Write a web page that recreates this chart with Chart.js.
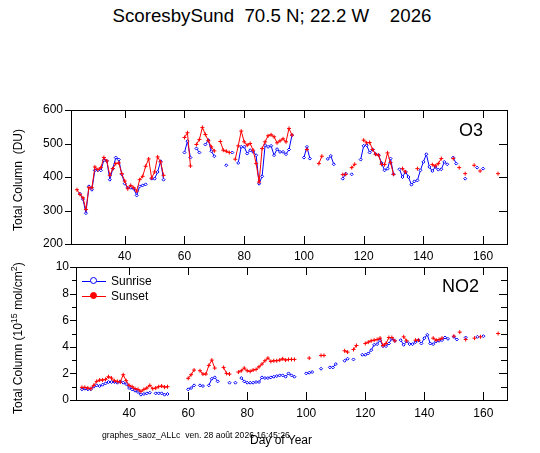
<!DOCTYPE html>
<html lang="fr">
<head>
<meta charset="UTF-8">
<title>ScoresbySund SAOZ 2026</title>
<script src="https://cdn.jsdelivr.net/npm/chart.js"></script>
<style>
    body {
        margin: 0;
        background: #fff;
        font-family: "Liberation Sans", Arial, sans-serif;
        color: #000;
    }
    #page {
        position: relative;
        width: 540px;
        height: 453px;
        overflow: hidden;
    }
    canvas { position: absolute; left: 0; }
    .txt { position: absolute; white-space: pre; line-height: 1; }
    .vert {
        position: absolute;
        white-space: pre;
        font-size: 12px;
        line-height: 1;
        transform: translate(-50%, -50%) rotate(-90deg);
    }
    .vert sup { font-size: 9px; vertical-align: 5px; }
    .leg { position: absolute; left: 82px; width: 24px; height: 0; border-top: 1px solid; }
    .leg i { position: absolute; left: 8px; top: -5px; width: 7px; height: 7px; border-radius: 50%; border: 1px solid; box-sizing: border-box; }
</style>
</head>
<body>
<div id="page">
    <div class="txt" style="left:0;width:544px;text-align:center;top:7px;font-size:18.7px;">ScoresbySund  70.5 N; 22.2 W    2026</div>

    <canvas id="o3Chart" width="540" height="165" style="top:100px"></canvas>
    <canvas id="no2Chart" width="540" height="170" style="top:257px"></canvas>

    <div class="txt" style="left:459px;top:121px;font-size:18px;">O3</div>
    <div class="txt" style="left:442px;top:277px;font-size:18px;">NO2</div>

    <div class="vert" style="left:18px;top:180px;">Total Column  (DU)</div>
    <div class="vert" style="left:17px;top:338px;">Total Column (10<sup>15</sup> mol/cm<sup>2</sup>)</div>

    <!-- legend -->
    <div class="leg" style="top:281px;border-color:#00f;"><i style="border-color:#00f;background:#fff;"></i></div>
    <div class="txt" style="left:111px;top:275px;font-size:12px;">Sunrise</div>
    <div class="leg" style="top:296px;border-color:#f00;"><i style="border-color:#f00;background:#f00;"></i></div>
    <div class="txt" style="left:111px;top:290px;font-size:12px;">Sunset</div>

    <div class="txt" style="left:102px;top:431px;font-size:8.6px;">graphes_saoz_ALLc  ven. 28 août 2026 16:45:26</div>
    <div class="txt" style="left:0;width:562px;text-align:center;top:434px;font-size:12px;">Day of Year</div>
</div>

<script>
// day of year ticks
const dayTicks = [40, 60, 80, 100, 120, 140, 160];
const o3Ticks = [200, 300, 400, 500, 600];
const no2Ticks = [0, 2, 4, 6, 8, 10];

// [day, value]; null = no measurement (line break)
const o3Sunrise = [
    [25,350],[26,334],[27,292],[28,372],[29,362],[30,420],[31,420],[32,420],[33,450],[34,448],[35,392],[36,425],[37,458],[38,452],[39,408],[40,380],[41,368],[42,368],[43,365],[44,345],[45,372],[46,375],[47,378],[48,null],[49,395],[50,395],[51,415],[52,447],[53,392],[54,null],
    [60,473],[61,507],[62,458],[63,null],
    [64,485],[65,473],[66,null],[67,497],[68,510],[69,477],[70,462],[71,null],
    [74,435],[75,null],[76,473],[77,null],
    [78,442],[79,490],[80,490],[81,470],[82,480],[83,475],[84,465],[85,380],[86,402],[87,495],[88,490],[89,493],[90,465],[91,483],[92,475],[93,475],[94,468],[95,482],[96,525],[97,null],
    [100,458],[101,490],[102,455],[103,null],
    [108,454],[109,463],[110,438],[111,null],
    [113,395],[114,410],[115,null],[116,408],[117,null],
    [119,452],[120,493],[121,495],[122,473],[123,482],[124,468],[125,465],[126,442],[127,420],[128,425],[129,455],[130,408],[131,null],
    [132,423],[133,400],[134,416],[135,400],[136,377],[137,387],[138,390],[139,420],[140,445],[141,468],[142,430],[143,418],[144,430],[145,422],[146,423],[147,445],[148,438],[149,null],
    [150,458],[151,440],[152,null],[154,395],[155,null],[158,428],[159,null],[160,425]
];
const o3Sunset = [
    [24,362],[25,348],[26,338],[27,303],[28,368],[29,368],[30,430],[31,422],[32,428],[33,458],[34,448],[35,405],[36,425],[37,440],[38,442],[39,410],[40,388],[41,365],[42,375],[43,368],[44,358],[45,392],[46,402],[47,432],[48,454],[49,397],[50,415],[51,460],[52,445],[53,405],[54,null],
    [60,518],[61,532],[62,433],[63,null],
    [64,497],[65,512],[66,548],[67,527],[68,508],[69,490],[70,478],[71,null],
    [72,506],[73,480],[74,477],[75,473],[76,null],
    [77,453],[78,493],[79,537],[80,505],[81,495],[82,500],[83,480],[84,440],[85,385],[86,485],[87,505],[88,523],[89,526],[90,520],[91,502],[92,508],[93,514],[94,505],[95,545],[96,525],[97,null],
    [101,482],[102,null],
    [105,440],[106,462],[107,null],
    [113,407],[114,408],[115,null],[116,428],[117,438],[118,null],
    [120,510],[121,502],[122,503],[123,482],[124,468],[125,465],[126,438],[127,437],[128,472],[129,443],[130,408],[131,null],
    [133,425],[134,415],[135,null],[138,425],[139,null],
    [143,437],[144,433],[145,440],[146,455],[147,null],
    [150,455],[151,null],[152,428],[153,null],[154,410],[155,null],[157,435],[158,null],[159,418],[160,null],[165,410]
];

const no2Sunrise = [
    [24,0.8],[25,0.85],[26,0.8],[27,0.8],[28,1.0],[29,1.1],[30,1.05],[31,1.15],[32,1.25],[33,1.35],[34,1.35],[35,1.35],[36,1.3],[37,1.4],[38,1.3],[39,1.2],[40,0.9],[41,0.8],[42,0.7],[43,0.6],[44,0.4],[45,0.45],[46,0.5],[47,0.55],[48,null],[49,0.5],[50,0.5],[51,0.5],[52,0.4],[53,0.45],[54,null],
    [60,0.8],[61,0.9],[62,1.1],[63,null],[64,1.1],[65,1.05],[66,null],[67,1.1],[68,1.6],[69,1.7],[70,1.4],[71,null],
    [74,1.3],[75,null],[76,1.3],[77,null],
    [78,1.65],[79,1.4],[80,1.3],[81,1.3],[82,1.3],[83,1.35],[84,1.35],[85,1.7],[86,1.65],[87,1.65],[88,1.7],[89,1.75],[90,1.8],[91,1.85],[92,1.85],[93,1.75],[94,2.0],[95,1.85],[96,1.75],[97,null],
    [100,2.0],[101,2.05],[102,2.1],[103,null],[105,2.35],[106,null],
    [108,2.45],[109,2.45],[110,2.7],[111,null],
    [113,2.95],[114,3.1],[115,null],[116,3.05],[117,null],
    [119,3.4],[120,3.4],[121,3.5],[122,3.75],[123,4.15],[124,4.2],[125,4.5],[126,4.05],[127,4.05],[128,4.25],[129,4.6],[130,4.45],[131,null],
    [132,4.5],[133,4.15],[134,4.4],[135,4.2],[136,4.2],[137,4.35],[138,4.5],[139,4.25],[140,4.65],[141,4.9],[142,4.25],[143,4.2],[144,4.4],[145,4.45],[146,4.5],[147,4.7],[148,4.6],[149,null],
    [150,4.75],[151,4.55],[152,null],[154,4.7],[155,null],[158,4.75],[159,null],[160,4.8]
];
const no2Sunset = [
    [24,0.95],[25,0.95],[26,0.9],[27,0.85],[28,1.1],[29,1.4],[30,1.5],[31,1.5],[32,1.55],[33,1.75],[34,1.65],[35,1.45],[36,1.4],[37,1.35],[38,1.9],[39,1.45],[40,1.1],[41,1.0],[42,0.85],[43,0.8],[44,0.65],[45,0.8],[46,0.9],[47,1.1],[48,0.85],[49,0.9],[50,1.0],[51,1.05],[52,0.97],[53,1.0],[54,null],
    [60,1.63],[61,1.9],[62,2.25],[63,null],[64,2.2],[65,1.95],[66,1.95],[67,2.6],[68,3.0],[69,2.4],[70,null],
    [72,2.45],[73,2.0],[74,1.95],[75,null],
    [77,2.1],[78,2.2],[79,2.4],[80,2.2],[81,2.15],[82,2.25],[83,2.3],[84,2.5],[85,2.7],[86,2.95],[87,3.15],[88,2.9],[89,2.95],[90,2.95],[91,3.0],[92,3.1],[93,3.0],[94,3.05],[95,3.05],[96,3.05],[97,null],
    [101,3.15],[102,null],[105,3.35],[106,3.35],[107,null],
    [113,3.7],[114,3.6],[115,null],[116,3.8],[117,4.1],[118,null],
    [120,4.25],[121,4.35],[122,4.45],[123,4.5],[124,4.55],[125,4.65],[126,4.1],[127,4.25],[128,4.7],[129,4.7],[130,4.45],[131,null],
    [133,4.75],[134,4.45],[135,null],[137,4.5],[138,4.5],[139,null],
    [143,4.65],[144,4.5],[145,4.55],[146,4.65],[147,null],
    [150,4.8],[151,null],[152,5.1],[153,null],[154,4.55],[155,null],[157,4.65],[158,null],[159,4.75],[160,null],[165,5.0]
];

const toXY = arr => arr.map(p => ({ x: p[0], y: p[1] }));

// box round the plot with inward ticks (left ticks point outward)
const framePlugin = {
    id: 'frame',
    afterDatasetsDraw(chart, args, opts) {
        const { ctx, chartArea: a, scales: { x, y } } = chart;
        ctx.save();
        ctx.strokeStyle = '#000';
        ctx.lineWidth = 1;
        ctx.beginPath();
        x.ticks.forEach(t => {
            const px = Math.round(x.getPixelForValue(t.value)) + 0.5;
            ctx.moveTo(px, a.bottom); ctx.lineTo(px, a.bottom - 8);
            ctx.moveTo(px, a.top); ctx.lineTo(px, a.top + 8);
        });
        const majors = y.ticks.map(t => t.value);
        for (let v = y.min; v <= y.max + 1e-9; v += opts.minorStep) {
            const py = Math.round(y.getPixelForValue(v)) + 0.5;
            const major = majors.some(m => Math.abs(m - v) < 1e-6);
            ctx.moveTo(a.left, py); ctx.lineTo(a.left - (major ? 6 : 4), py);
            ctx.moveTo(a.right, py); ctx.lineTo(a.right - (major ? 8 : 6), py);
        }
        ctx.stroke();
        ctx.strokeRect(Math.round(a.left) + 0.5, Math.round(a.top) + 0.5, Math.round(a.width), Math.round(a.height));
        ctx.restore();
    }
};

function makeDatasets(rise, set) {
    return [
        {
            label: 'Sunrise', data: toXY(rise), order: 1,
            borderColor: '#0000ff', backgroundColor: '#ffffff', borderWidth: 1,
            pointStyle: 'rectRot', pointRadius: 1.5, pointBorderWidth: 1, pointBorderColor: '#0000ff',
            spanGaps: false, tension: 0
        },
        {
            label: 'Sunset', data: toXY(set), order: 0,
            borderColor: '#ff0000', backgroundColor: '#ff0000', borderWidth: 1,
            pointStyle: 'cross', pointRadius: 2, pointBorderWidth: 1, pointBorderColor: '#ff0000',
            spanGaps: false, tension: 0
        }
    ];
}

function makeChart(id, rise, set, yMin, yMax, yTicks, minorStep, yWidth, xHeight, xPad, yPad) {
    const font = { family: '"Liberation Sans", Arial, sans-serif', size: 12 };
    return new Chart(document.getElementById(id), {
        type: 'line',
        data: { datasets: makeDatasets(rise, set) },
        options: {
            responsive: false,
            animation: false,
            events: [],
            layout: { padding: { top: 10, right: 33, left: 0, bottom: 0 } },
            plugins: {
                legend: { display: false },
                tooltip: { enabled: false },
                frame: { minorStep: minorStep }
            },
            scales: {
                x: {
                    type: 'linear', min: 22, max: 168,
                    grid: { display: false, drawTicks: false },
                    border: { display: false },
                    ticks: { color: '#000', font: font, padding: xPad, maxRotation: 0 },
                    afterBuildTicks: s => { s.ticks = dayTicks.map(v => ({ value: v })); },
                    afterFit: s => { s.height = xHeight; s.paddingLeft = 0; s.paddingRight = 0; }
                },
                y: {
                    type: 'linear', min: yMin, max: yMax,
                    grid: { display: false, drawTicks: false },
                    border: { display: false },
                    ticks: { color: '#000', font: font, padding: yPad },
                    afterBuildTicks: s => { s.ticks = yTicks.map(v => ({ value: v })); },
                    afterFit: s => { s.width = yWidth; s.paddingTop = 0; s.paddingBottom = 0; }
                }
            }
        },
        plugins: [framePlugin]
    });
}

makeChart('o3Chart', o3Sunrise, o3Sunset, 200, 600, o3Ticks, 100, 71, 21, 5, 8);
makeChart('no2Chart', no2Sunrise, no2Sunset, 0, 10, no2Ticks, 1, 76, 27, 6, 7);
</script>
</body>
</html>
